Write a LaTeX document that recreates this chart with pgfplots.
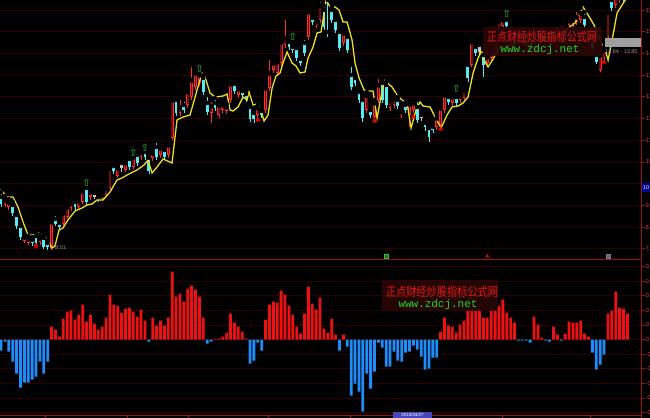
\documentclass[border=0pt]{standalone}
\usepackage{pgfplots}
\pgfplotsset{compat=1.18}
\usepackage{pgfplotstable}
\usepackage{fontspec}
\setmainfont{Liberation Sans}
\newfontfamily\cjk{Noto Sans CJK SC}
\newfontfamily\mono{Liberation Mono}
\newfontfamily\djv{DejaVu Sans}
\definecolor{candlered}{RGB}{255,45,45}
\definecolor{candleredin}{RGB}{110,14,14}
\definecolor{candlecyan}{RGB}{84,235,245}
\definecolor{candlewhite}{RGB}{200,200,200}
\definecolor{lineyellow}{RGB}{235,225,30}
\definecolor{barred}{RGB}{240,16,16}
\definecolor{barblue}{RGB}{30,140,250}
\definecolor{gridred}{RGB}{48,0,0}
\definecolor{frame}{RGB}{150,20,20}
\definecolor{ticktext}{RGB}{220,60,60}
\definecolor{wmbox}{RGB}{42,6,6}
\definecolor{wmred}{RGB}{235,20,20}
\definecolor{wmgreen}{RGB}{30,220,30}
\definecolor{arrowgreen}{RGB}{50,190,60}

% up candles: index, high, body top, body bottom, low (screen rows, top = 0)
\pgfplotstableread{
i hi t b lo
1 196 199 205 207
2 199 202 207 210
6 234 237 241 243
7 236 239 243 245
10 235 238 242 245
13 219 222 248 250
16 210 213 224 226
17 204 207 217 219
18 200 203 208 211
20 198 201 207 209
21 188 191 202 204
23 189 192 197 200
26 192 195 199 201
27 185 188 195 197
28 165 168 188 190
30 165 168 176 178
32 160 163 170 172
34 155 157 167 169
36 149 152 157 160
39 150 153 158 161
41 145 148 155 158
43 142 145 155 158
44 96 100 138 140
46 98 107 113 116
48 88 92 105 108
49 65 80 97 100
50 70 73 87 90
51 72 75 83 86
54 100 106 113 123
56 102 105 115 118
57 102 105 110 113
58 104 107 111 114
59 81 84 100 103
61 86 89 95 98
66 105 108 115 118
68 85 88 110 113
69 58 73 88 91
70 60 63 70 73
71 58 62 73 76
72 39 42 63 66
73 18 38 45 48
79 8 12 37 40
81 19 22 25 28
82 0 5 20 23
88 30 33 43 46
94 92 95 110 113
96 100 103 117 119
97 77 85 100 103
100 97 100 108 111
101 95 98 105 108
103 109 112 115 118
105 101 104 115 127
106 100 103 110 113
112 115 118 127 130
113 105 108 125 128
114 92 95 110 113
116 94 97 103 106
118 92 95 100 103
119 87 90 98 101
121 39 42 65 67
125 54 57 63 66
126 47 50 58 61
127 37 40 50 53
128 18 21 28 31
129 17 20 26 29
131 23 26 35 38
133 29 32 40 43
134 27 30 38 41
136 25 28 36 39
137 21 24 30 33
139 27 30 36 39
140 25 28 34 37
142 24 27 33 36
143 22 25 32 35
144 21 24 30 33
146 17 20 25 28
147 17 20 24 27
148 10 17 22 25
149 8 13 20 23
151 28 32 40 43
154 50 55 70 72
155 47 50 58 60
156 8 12 37 45
158 -10 -5 5 8
159 -15 -10 0 3
161 -18 -12 -3 0
}\redcandles

\pgfplotstableread{
i hi t b lo
0 192 197 204 207
3 202 205 213 216
4 212 215 226 229
5 223 226 237 240
8 237 240 243 246
9 233 236 243 244
11 235 238 247 249
12 240 243 247 250
14 214 219 224 226
15 220 223 227 230
19 199 202 207 210
22 186 188 202 205
25 194 197 199 202
29 162 166 171 174
33 156 159 167 170
35 152 155 163 166
37 150 152 157 160
38 155 158 171 174
40 141 147 157 160
42 147 150 157 160
45 97 100 113 116
47 100 105 110 113
52 75 78 92 95
53 95 103 112 115
55 98 103 108 111
60 81 84 91 94
62 88 91 95 98
63 90 94 99 102
64 104 107 119 122
65 110 113 119 123
67 108 111 115 118
74 39 42 47 50
75 44 47 50 53
76 45 48 58 61
77 56 59 63 66
78 38 43 53 56
80 15 18 22 25
83 6 10 27 30
84 0 32 34 37
85 7 10 20 23
86 17 20 30 33
87 29 32 48 51
89 34 37 50 53
90 65 75 87 90
91 75 78 83 86
92 88 92 100 103
93 97 100 118 122
95 107 110 115 118
98 80 83 100 103
99 82 85 105 108
102 97 100 106 109
104 102 105 110 113
107 100 107 120 123
109 119 123 127 131
110 125 128 137 142
111 124 127 130 133
115 94 97 102 105
117 94 97 103 106
120 62 65 78 82
122 44 47 53 56
124 50 55 65 77
130 18 20 26 29
132 27 30 40 43
135 30 33 40 43
138 25 28 35 38
141 27 30 38 41
145 24 27 33 36
150 12 17 25 27
152 37 40 48 51
153 52 55 62 64
157 -4 0 8 11
160 -12 -8 -2 2
}\cyancandles

\pgfplotstableread{
i hi t b lo
24 190 193 197 199
31 160 163 168 172
108 112 115 118 121
123 42 45 52 55
}\whitecandles

\pgfplotstableread{
i v
0 -11
1 -2
2 -12
3 -22
4 -34
5 -48
6 -43
7 -43
8 -40
9 -37
10 -22
11 -34
12 -22
13 13
14 10
15 3
16 21
17 28
18 29
19 20
20 25
21 35
22 18
23 25
24 16
25 10
26 13
27 22
28 45
29 35
30 34
31 27
32 31
33 32
34 28
35 23
36 30
37 19
38 -2
39 22
40 14
41 19
42 14
43 22
44 68
45 43
46 46
47 38
48 51
49 54
50 50
51 43
52 22
53 -4
54 -2
55 1
56 1
57 3
58 7
59 26
60 17
61 13
62 8
63 1
64 -24
65 -21
66 -3
67 -11
68 20
69 35
70 38
71 37
72 49
73 45
74 34
75 25
76 13
77 6
78 26
79 53
80 36
81 30
82 42
83 11
84 7
85 21
86 5
87 -11
88 5
89 -7
90 -56
91 -44
92 -52
93 -72
94 -34
95 -49
96 -32
97 -3
98 -8
99 -27
100 -27
101 -12
102 -21
103 -22
104 -13
105 -12
106 -6
107 -10
108 -17
109 -30
110 -29
111 -18
112 -18
113 8
114 22
115 14
116 13
117 7
118 15
119 19
120 29
121 29
122 29
123 29
124 22
125 22
126 29
127 30
128 34
129 40
130 27
131 22
132 17
133 -1
134 -1
135 -1
136 -3
137 23
138 15
139 2
140 -1
141 -2
142 13
143 5
144 -1
145 6
146 18
147 17
148 17
149 19
150 6
151 3
152 -13
153 -30
154 -25
155 -15
156 26
157 29
158 48
159 32
160 31
161 26
}\hist

\begin{document}
\begin{tikzpicture}
\useasboundingbox (0,0) rectangle (650bp,418bp);
\fill[black] (0,0) rectangle (650bp,418bp);

% ---------------- upper panel: candles ----------------
\begin{axis}[
  at={(0bp,159bp)}, anchor=south west,
  width=641bp, height=259bp, scale only axis,
  xmin=-0.26, xmax=164.5,
  ymin=0, ymax=259, y dir=reverse,
  hide x axis,
  axis y line*=right,
  y axis line style={draw=none},
  ytick={10,31.7,53.4,75.1,96.8,118.5,140.2,161.9,183.6,205.3,227,248.7},
  yticklabels={15.60,15.06,14.36,13.65,12.94,12.23,11.53,10.82,,9.40,8.70,7.99},
  yticklabel style={font=\fontsize{6}{6}\selectfont, text=ticktext, anchor=west, inner sep=0.5bp},
  ymajorgrids, grid style={gridred, line width=0.6bp},
  major tick length=4bp, tick align=outside,
  tick style={frame, line width=0.6bp},
  clip=true,
]
% wicks
\addplot[only marks, mark=none, forget plot,
  error bars/.cd, y dir=plus, y explicit, error mark=none,
  error bar style={draw=candlered, line width=0.7bp}]
  table[x=i, y=hi, y error expr=\thisrow{lo}-\thisrow{hi}] {\redcandles};
\addplot[only marks, mark=none, forget plot,
  error bars/.cd, y dir=plus, y explicit, error mark=none,
  error bar style={draw=candlecyan, line width=0.7bp}]
  table[x=i, y=hi, y error expr=\thisrow{lo}-\thisrow{hi}] {\cyancandles};
\addplot[only marks, mark=none, forget plot,
  error bars/.cd, y dir=plus, y explicit, error mark=none,
  error bar style={draw=candlewhite, line width=0.7bp}]
  table[x=i, y=hi, y error expr=\thisrow{lo}-\thisrow{hi}] {\whitecandles};
% bodies
\addplot[only marks, mark=none, forget plot,
  error bars/.cd, y dir=plus, y explicit, error mark=none,
  error bar style={draw=candlered, line width=2.8bp}]
  table[x=i, y=t, y error expr=\thisrow{b}-\thisrow{t}] {\redcandles};
\addplot[only marks, mark=none, forget plot,
  error bars/.cd, y dir=plus, y explicit, error mark=none,
  error bar style={draw=candleredin, line width=1.6bp}]
  table[x=i, y expr=\thisrow{t}+0.6, y error expr=\thisrow{b}-\thisrow{t}-1.2] {\redcandles};
\addplot[only marks, mark=none, forget plot,
  error bars/.cd, y dir=plus, y explicit, error mark=none,
  error bar style={draw=candlecyan, line width=2.8bp}]
  table[x=i, y=t, y error expr=\thisrow{b}-\thisrow{t}] {\cyancandles};
\addplot[only marks, mark=none, forget plot,
  error bars/.cd, y dir=plus, y explicit, error mark=none,
  error bar style={draw=candlewhite, line width=2.8bp}]
  table[x=i, y=t, y error expr=\thisrow{b}-\thisrow{t}] {\whitecandles};
% yellow line
\addplot[lineyellow, line width=1.3bp, mark=none] coordinates {
(-0.26,190) (0.26,191) (1.54,197) (3.08,197) (4.37,207) (5.66,222) (6.94,235) (8.23,235) (9.51,233) (10.80,235) (12.08,240) (13.11,248) (13.88,246) (14.91,230) (15.94,228) (17.22,220) (19.02,211) (20.82,208) (22.11,205) (23.39,204) (24.68,200) (26.22,200) (28.02,192) (29.82,180) (31.11,178) (32.39,175) (34.96,170) (36.76,165) (37.79,160) (38.82,173) (40.10,167) (41.65,159) (43.96,163) (45.24,120) (46.79,117) (48.59,115) (50.39,90) (51.67,73) (52.44,77) (53.73,93) (55.01,97) (57.07,96) (58.10,94) (58.87,110) (59.64,111) (60.93,107) (62.21,97) (63.24,100) (63.75,92) (64.78,105) (65.81,104) (66.58,107) (67.61,121) (68.64,115) (69.67,88) (70.69,76) (71.72,73) (72.49,63) (73.52,52) (74.81,63) (75.84,66) (76.86,73) (78.15,72) (78.92,58) (80.21,47) (81.23,33) (82.26,32) (83.03,13) (83.55,0) (84.58,7) (85.86,7) (86.89,10) (87.92,22) (88.95,22) (90.23,40) (91.00,63) (92.03,78) (93.32,90) (94.34,91) (95.63,91) (96.66,118) (98.46,80) (100.51,87) (101.80,95) (103.08,100) (104.37,103) (105.40,128) (106.68,110) (107.71,102) (108.48,106) (110.28,107) (111.57,117) (113.11,128) (114.65,115) (115.94,107) (117.48,106) (118.77,103) (120.05,97) (121.34,73) (122.62,58) (123.65,50) (124.16,60) (125.19,67) (126.48,59) (128.0,48) (130.8,45) (133.4,42) (136.0,45) (138.6,38) (141.1,40) (143.7,35) (145.8,28) (147.56,23) (149.61,7) (150.90,15) (152.44,25) (154.50,45) (155.53,53) (156.04,60) (157.07,40) (158.35,13) (159.64,5) (160.93,-3) (162.2,-6)
};
% green signal arrows
\addplot[only marks, mark=text, text mark={⇧}, text mark as node=true,
  text mark style={text=arrowgreen, font=\djv\fontsize{10}{10}\selectfont, inner sep=0pt}]
  coordinates {(22,183) (34,153) (37,148) (51,69) (75,37) (117,89) (130,14)};
% red signal marks
\addplot[only marks, mark=triangle*, mark size=2.5bp, color=red, fill=red]
  coordinates {(9,246) (66,120) (96,121) (106,117) (113,129) (155,62)};
% small event markers on the bottom line
\addplot[only marks, mark=square*, mark size=1.8bp, draw=arrowgreen, fill=arrowgreen!60!black]
  coordinates {(99,256)};
\addplot[only marks, mark=triangle*, mark size=1.6bp, color=red]
  coordinates {(125,256)};
\addplot[only marks, mark=square*, mark size=1.8bp, draw=gray, fill=blue!30!gray]
  coordinates {(156,256)};
\end{axis}

% ---------------- lower panel: histogram ----------------
\begin{axis}[
  at={(0bp,3bp)}, anchor=south west,
  width=641bp, height=155bp, scale only axis,
  xmin=-0.26, xmax=164.5,
  ymin=-75.5, ymax=79.5,
  axis x line*=bottom, axis y line*=right,
  x axis line style={draw=frame, line width=0.8bp},
  y axis line style={draw=none},
  xtick={11.3,32.4,48.1,68.6,89.7,128.8,151.4}, xticklabels={},
  ytick={-73,-58.4,-43.8,-29.2,-14.6,0,14.6,29.2,43.8,58.4,73},
  yticklabels={-0.50,-0.40,-0.30,-0.20,-0.10,0.00,0.10,0.20,0.30,0.40,0.50},
  yticklabel style={font=\fontsize{6}{6}\selectfont, text=ticktext, anchor=west, inner sep=0.5bp},
  ymajorgrids, grid style={gridred, line width=0.6bp},
  major tick length=4bp, tick align=outside,
  tick style={frame, line width=0.6bp},
  ybar, bar width=2.8bp,
]
\addplot[ybar, bar shift=0pt, bar width=2.8bp, fill=barred, draw=none,
  restrict y to domain=0:200] table[x=i, y=v] {\hist};
\addplot[ybar, bar shift=0pt, bar width=2.8bp, fill=barblue, draw=none,
  restrict y to domain=-200:0] table[x=i, y=v] {\hist};
\end{axis}

% frame lines
\draw[frame, line width=0.9bp] (641bp,0) -- (641bp,418bp);
\draw[frame, line width=0.9bp] (0,158.5bp) -- (641bp,158.5bp);

% upper watermark
\fill[wmbox, opacity=0.92] (483bp,362bp) rectangle (602bp,391bp);
\node[text=wmred, font=\cjk\fontsize{12.5}{12.5}\selectfont, xscale=0.8, inner sep=0]
  at (542bp,381bp) {正点财经炒股指标公式网};
\node[text=wmgreen, font=\mono\fontsize{11}{11}\selectfont, inner sep=0]
  at (540bp,368bp) {www.zdcj.net};
% lower watermark
\fill[wmbox, opacity=0.92] (382bp,107bp) rectangle (498bp,138bp);
\node[text=wmred, font=\cjk\fontsize{12.5}{12.5}\selectfont, xscale=0.82, inner sep=0]
  at (442bp,126bp) {正点财经炒股指标公式网};
\node[text=wmgreen, font=\mono\fontsize{11}{11}\selectfont, inner sep=0]
  at (438bp,113bp) {www.zdcj.net};

% price annotations
\fill[gray!75] (605bp,371bp) rectangle (641bp,380bp);
\node[text=gray!80, font=\fontsize{5.5}{5.5}\selectfont, inner sep=0, anchor=west]
  at (605bp,366bp) {13.64 - 13.85};
\node[text=gray!85, font=\fontsize{5.5}{5.5}\selectfont, inner sep=0, anchor=west]
  at (55bp,170bp) {8.01};
\fill[blue!55!black] (642bp,226bp) rectangle (650bp,235bp);
\node[text=white, font=\fontsize{5.5}{5.5}\selectfont, inner sep=0]
  at (646bp,230.5bp) {10};
\fill[blue!45!gray] (393bp,0) rectangle (432bp,6bp);
\node[text=white, font=\fontsize{4.5}{4.5}\selectfont, inner sep=0]
  at (412.5bp,3bp) {2010/04/27};
\end{tikzpicture}
\end{document}
